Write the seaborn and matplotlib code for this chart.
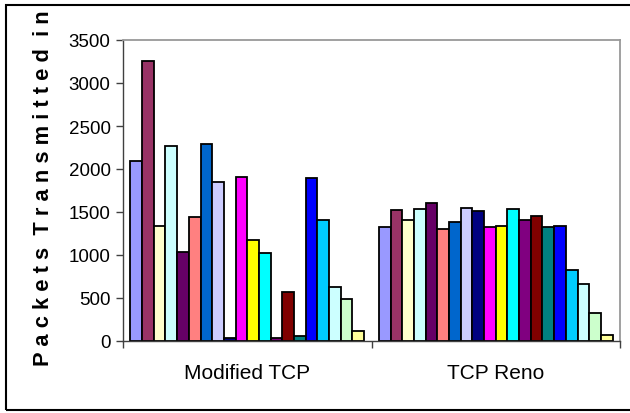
import numpy as np
import pandas as pd
import matplotlib
matplotlib.use("Agg")
import matplotlib.pyplot as plt
from matplotlib.patches import Rectangle
import seaborn as sns

categories = ["Modified TCP", "TCP Reno"]
flows = [f"Flow {i}" for i in range(1, 21)]
modified_tcp = [2090, 3260, 1340, 2270, 1040, 1440, 2290, 1850, 40, 1910,
                1180, 1020, 30, 570, 60, 1890, 1410, 630, 490, 120]
tcp_reno = [1320, 1520, 1410, 1530, 1610, 1300, 1380, 1550, 1510, 1320,
            1340, 1530, 1410, 1450, 1320, 1340, 830, 660, 330, 75]
colors = ["#9999FF", "#993366", "#FFFFCC", "#CCFFFF", "#660066", "#FF8080",
          "#0066CC", "#CCCCFF", "#000080", "#FF00FF", "#FFFF00", "#00FFFF",
          "#800080", "#800000", "#008080", "#0000FF", "#00CCFF", "#CCFFFF",
          "#CCFFCC", "#FFFF99"]
y_ticks = [0, 500, 1000, 1500, 2000, 2500, 3000, 3500]
ylabel_text = "P a c k e t s  T r a n s m i t t e d  i n"

df = pd.DataFrame({
    "protocol": [categories[0]] * 20 + [categories[1]] * 20,
    "flow": flows + flows,
    "packets": modified_tcp + tcp_reno,
})

sns.set_theme(style="white")
plt.rcParams["font.family"] = ["Liberation Sans", "DejaVu Sans"]

fig = plt.figure(figsize=(6.3, 4.14), dpi=100)
W, H = 630, 414
ax = fig.add_axes([123 / W, (H - 342) / H, (620 - 123) / W, (342 - 41) / H])

sns.barplot(data=df, x="protocol", y="packets", hue="flow",
            palette=dict(zip(flows, colors)), width=0.94,
            edgecolor="black", linewidth=1.3, legend=False, ax=ax,
            saturation=1, errorbar=None)

ax.set_xlim(-0.5, 1.5)
ax.set_ylim(0, 3500)
ax.set_yticks(y_ticks)
ax.set_yticklabels([str(v) for v in y_ticks], fontsize=13.5, color="black")
ax.set_xticks([0, 1])
ax.set_xticklabels(categories, fontsize=15, color="black")
ax.set_xticks([-0.5, 0.5, 1.5], minor=True)
ax.tick_params(axis="x", which="major", length=0, pad=16)
ax.tick_params(axis="x", which="minor", length=5, width=1, color="#404040",
               direction="out", bottom=True)
ax.tick_params(axis="y", which="major", length=5, width=1, color="#404040",
               direction="out", left=True, pad=4)
ax.set_xlabel("")
ax.set_ylabel("")

for side in ["top", "right"]:
    ax.spines[side].set_color("#999999")
    ax.spines[side].set_linewidth(1.3)
for side in ["left", "bottom"]:
    ax.spines[side].set_color("#404040")
    ax.spines[side].set_linewidth(1.0)

lab = fig.text(44 / W, (H - 366) / H, ylabel_text, rotation=90, ha="center",
               va="bottom", fontsize=16, fontweight="bold", color="black")
# fit label so it spans from y=366 up to about y=10 (pixels from top)
fig.canvas.draw()
r = fig.canvas.get_renderer()
ext = lab.get_window_extent(renderer=r)
lab.set_fontsize(16 * 354.0 / ext.height)

fig.patches.append(Rectangle((6 / W, (H - 411) / H), 700 / W, 405 / H,
                             transform=fig.transFigure, fill=False,
                             edgecolor="black", linewidth=1.5))

fig.savefig("out.png", dpi=100)
